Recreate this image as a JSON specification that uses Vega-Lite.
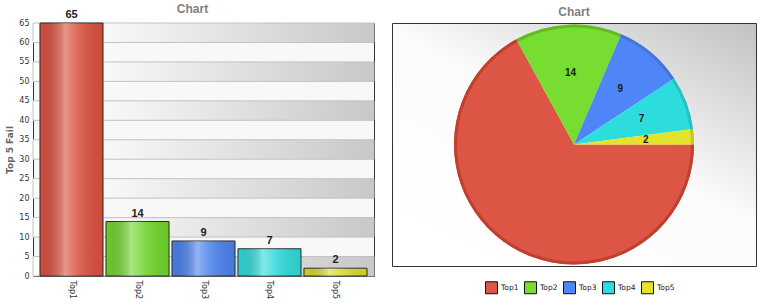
{
  "$schema": "https://vega.github.io/schema/vega-lite/v6.json",
  "padding": {"left": 5, "top": 2, "right": 0, "bottom": 0},
  "background": "white",
  "spacing": 16,
  "resolve": {"scale": {"color": "independent", "fill": "independent"}, "legend": {"color": "independent", "fill": "independent"}},
  "datasets": {
    "fails": [
      {"name": "Top1", "value": 65},
      {"name": "Top2", "value": 14},
      {"name": "Top3", "value": 9},
      {"name": "Top4", "value": 7},
      {"name": "Top5", "value": 2}
    ],
    "bands": [
      {"lo": 0, "hi": 5},
      {"lo": 10, "hi": 15},
      {"lo": 20, "hi": 25},
      {"lo": 30, "hi": 35},
      {"lo": 40, "hi": 45},
      {"lo": 50, "hi": 55},
      {"lo": 60, "hi": 65}
    ]
  },
  "config": {
    "font": "Liberation Sans",
    "title": {"font": "Liberation Sans", "fontSize": 12, "fontWeight": "bold", "color": "#7f7f7f", "frame": "group"},
    "axis": {"labelFont": "DejaVu Sans", "labelFontSize": 8, "labelColor": "#333333", "domain": false, "tickSize": 0, "tickColor": "transparent", "grid": false, "labelFlush": false, "labelOverlap": false},
    "axisY": {"labelOverlap": false, "labelPadding": 4, "titlePadding": 4, "titleFont": "DejaVu Sans", "titleFontSize": 9, "titleFontWeight": "bold", "titleColor": "#666666"},
    "legend": {"labelFont": "DejaVu Sans", "labelFontSize": 7.5, "labelColor": "#222222"}
  },
  "hconcat": [
    {
      "width": 341,
      "height": 253,
      "title": {"text": "Chart", "dx": -11, "offset": -7},
      "view": {"fill": "#f8f8f8", "stroke": "#333333", "strokeWidth": 1},
      "layer": [
        {
          "data": {"name": "bands"},
          "mark": {
            "type": "rect",
            "stroke": "#c2c2c2",
            "strokeWidth": 1,
            "fill": {"gradient": "linear", "x1": 0, "y1": 0, "x2": 1, "y2": 0,
              "stops": [{"offset": 0, "color": "#ffffff"}, {"offset": 0.25, "color": "#f6f6f6"}, {"offset": 1, "color": "#c8c8c8"}]}
          },
          "encoding": {
            "y": {"field": "lo", "type": "quantitative", "scale": {"domain": [0, 65], "nice": false},
              "axis": {"title": "Top 5 Fail", "values": [0,5,10,15,20,25,30,35,40,45,50,55,60,65], "labelOverlap": false}},
            "y2": {"field": "hi"}
          }
        },
        {
          "data": {"name": "fails"},
          "mark": {"type": "bar", "stroke": "#2a2a2a", "strokeWidth": 1},
          "encoding": {
            "x": {"field": "name", "type": "nominal", "scale": {"paddingInner": 0.045, "paddingOuter": 0.106},
              "axis": {"title": null, "labelAngle": 90, "labelPadding": 4}},
            "y": {"field": "value", "type": "quantitative",
              "axis": {"title": "Top 5 Fail", "values": [0,5,10,15,20,25,30,35,40,45,50,55,60,65], "labelOverlap": false}},
            "color": {"field": "name", "type": "nominal", "legend": null,
              "scale": {"domain": ["Top1","Top2","Top3","Top4","Top5"], "range": ["#d9503f", "#6fd42a", "#4a80ec", "#2ed9d9", "#d8d82c"]}}
          }
        },
        {
          "data": {"name": "fails"},
          "mark": {
            "type": "bar",
            "fill": {"gradient": "linear", "x1": 0, "y1": 0, "x2": 1, "y2": 0,
              "stops": [{"offset": 0, "color": "rgba(0,0,0,0.04)"}, {"offset": 0.4, "color": "rgba(255,255,255,0.4)"}, {"offset": 0.6, "color": "rgba(255,255,255,0.15)"}, {"offset": 1, "color": "rgba(0,0,0,0.06)"}]}
          },
          "encoding": {
            "x": {"field": "name", "type": "nominal", "axis": {"title": null, "labelAngle": 90, "labelPadding": 4}},
            "y": {"field": "value", "type": "quantitative",
              "axis": {"title": "Top 5 Fail", "values": [0,5,10,15,20,25,30,35,40,45,50,55,60,65], "labelOverlap": false}}
          }
        },
        {
          "data": {"name": "fails"},
          "mark": {"type": "text", "baseline": "alphabetic", "dy": -5, "fontWeight": "bold", "fontSize": 11, "color": "#222222", "font": "Liberation Sans"},
          "encoding": {
            "x": {"field": "name", "type": "nominal", "axis": {"title": null, "labelAngle": 90, "labelPadding": 4}},
            "y": {"field": "value", "type": "quantitative",
              "axis": {"title": "Top 5 Fail", "values": [0,5,10,15,20,25,30,35,40,45,50,55,60,65], "labelOverlap": false}},
            "text": {"field": "value", "type": "quantitative"}
          }
        }
      ]
    },
    {
      "width": 364,
      "height": 243,
      "title": {"text": "Chart", "offset": 4},
      "view": {"stroke": "#333333", "strokeWidth": 1,
        "fill": {"gradient": "linear", "x1": 0.2, "y1": 1, "x2": 1, "y2": 0,
          "stops": [{"offset": 0, "color": "#ffffff"}, {"offset": 0.5, "color": "#fbfbfb"}, {"offset": 1, "color": "#c2c2c2"}]}},
      "data": {"name": "fails"},
      "encoding": {
        "theta": {"field": "value", "type": "quantitative", "stack": true, "scale": {"range": [1.5708, 7.854]}},
        "order": {"field": "name", "type": "nominal", "sort": "ascending"}
      },
      "layer": [
        {
          "mark": {"type": "arc", "radius": 120},
          "encoding": {
            "color": {"field": "name", "type": "nominal",
              "scale": {"domain": ["Top1","Top2","Top3","Top4","Top5"], "range": ["#dd5545", "#77dd30", "#4f86f7", "#2ddddd", "#e3e32c"]},
              "legend": {"orient": "none", "legendX": 93, "legendY": 258, "padding": 0, "direction": "horizontal", "title": null, "symbolType": "square", "symbolSize": 144, "symbolStrokeColor": "#111111", "symbolStrokeWidth": 1, "labelOffset": 3, "columnPadding": 3}}
          }
        },
        {
          "mark": {"type": "arc", "radius": 120, "radius2": 117},
          "encoding": {
            "fill": {"field": "name", "type": "nominal", "legend": null,
              "scale": {"domain": ["Top1","Top2","Top3","Top4","Top5"], "range": ["#c0402f", "#62bb25", "#4474dc", "#25c2c2", "#c4c425"]}}
          }
        },
        {
          "mark": {"type": "text", "radius": 72, "fontWeight": "bold", "fontSize": 10, "color": "#1a1a1a", "font": "Liberation Sans"},
          "encoding": {
            "detail": {"field": "name", "type": "nominal"},
            "text": {"condition": {"test": "datum.name === 'Top1'", "value": ""}, "field": "value", "type": "quantitative"}
          }
        }
      ]
    }
  ]
}
